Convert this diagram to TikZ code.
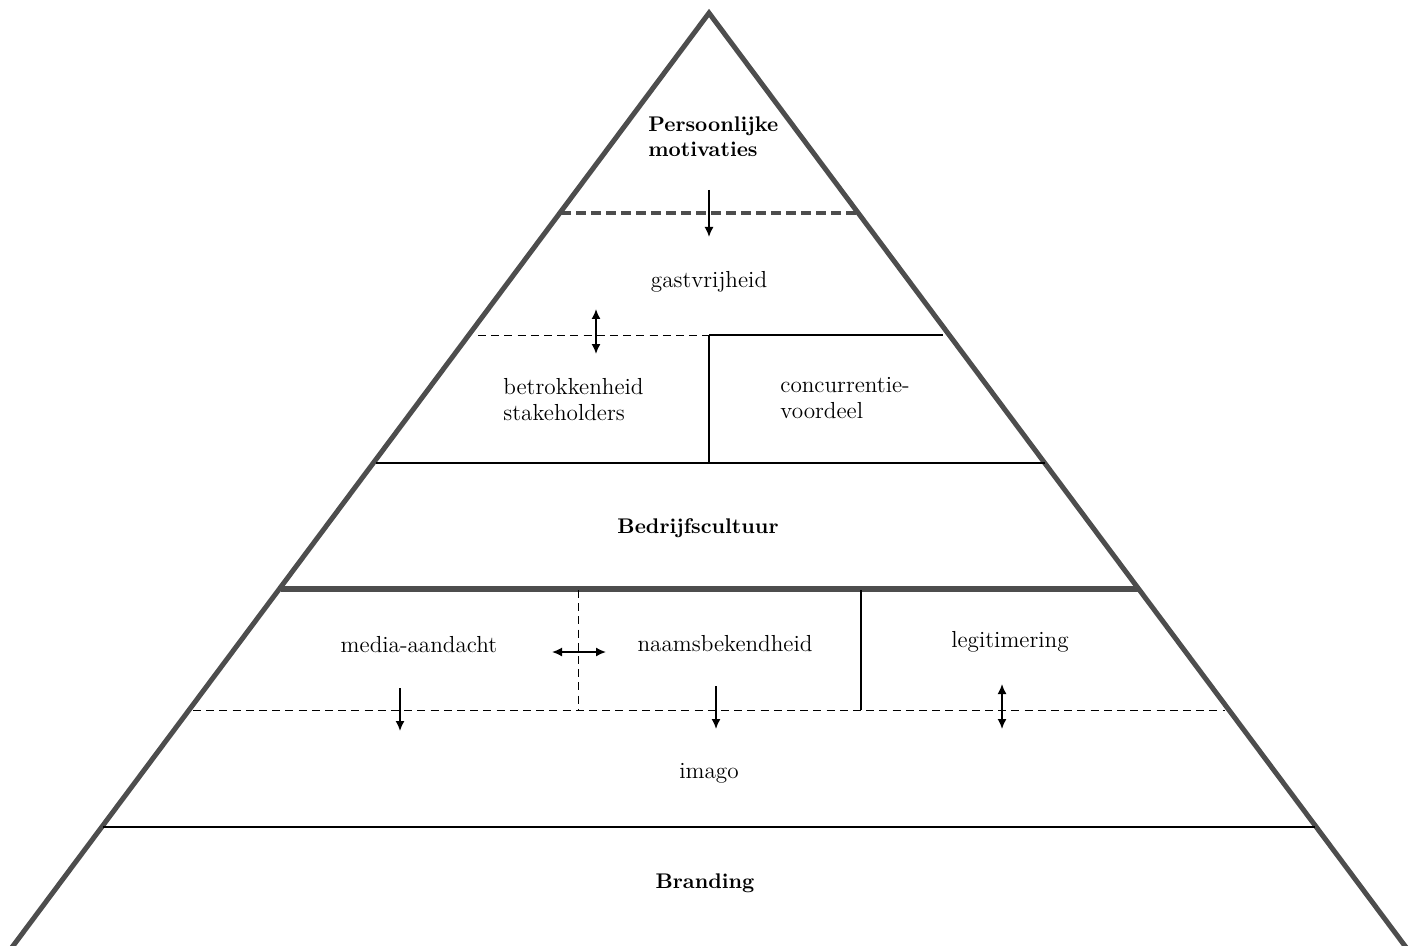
\documentclass[tikz,border=0pt]{standalone}
\usetikzlibrary{arrows.meta}
\definecolor{pgray}{HTML}{4D4D4D}
\begin{document}
\begin{tikzpicture}[x=0.5pt,y=-0.5pt,
  sidestyle/.style={line width=2.5pt,draw=pgray,line join=miter},
  thickdash/.style={line width=2pt,draw=pgray,dash pattern=on 5pt off 2.5pt},
  thickline/.style={line width=2.6pt,draw=pgray},
  thin/.style={line width=0.55pt,draw=black},
  thindash/.style={line width=0.5pt,draw=black,dash pattern=on 4pt off 2.6pt},
  arr/.style={line width=0.8pt,-{Latex[length=5pt,width=4.5pt]}},
  darr/.style={line width=0.8pt,{Latex[length=5pt,width=4.5pt]}-{Latex[length=5pt,width=4.5pt]}},
  lbl/.style={font=\fontsize{11.6}{13}\selectfont,inner sep=0pt},
  blbl/.style={font=\fontsize{10.6}{12.6}\selectfont\bfseries,inner sep=0pt,align=center}]
\useasboundingbox (0,0) rectangle (1422,946);
\clip (0,0) rectangle (1422,946);
% triangle
\coordinate (bl) at (10,950);
\coordinate (apex) at (709,13);
\coordinate (br) at (1408,950);
\draw[sidestyle] (bl) -- (apex) -- (br);
% level lines
\coordinate (d1l) at (561,213); \coordinate (d1r) at (857,213);
\draw[thickdash] (d1l) -- (d1r);
\coordinate (l2a) at (478,335); \coordinate (l2m) at (709,335); \coordinate (l2b) at (943,335);
\draw[thindash] (l2a) -- (l2m);
\draw[thin] (l2m) -- (l2b);
\coordinate (l3a) at (376,463); \coordinate (l3m) at (709,463); \coordinate (l3b) at (1045,463);
\draw[thin] (l3a) -- (l3b);
\draw[thin] (l2m) -- (l3m);
\coordinate (l4a) at (281,589); \coordinate (l4b) at (1139,589);
\draw[thickline] (l4a) -- (l4b);
\coordinate (l5a) at (193,710); \coordinate (l5b) at (1225,710);
\coordinate (v1t) at (578,590); \coordinate (v1b) at (578,710);
\coordinate (v2t) at (861,590); \coordinate (v2b) at (861,710);
\draw[thindash] (l5a) -- (l5b);
\draw[thindash] (v1t) -- (v1b);
\draw[thin] (v2t) -- (v2b);
\coordinate (l6a) at (103,827); \coordinate (l6b) at (1315,827);
\draw[thin] (l6a) -- (l6b);
% texts
\node[blbl,align=left,anchor=west] (pm) at (648,137) {Persoonlijke\\motivaties};
\node[lbl] (gv) at (709,282) {gastvrijheid};
\node[lbl,align=left,anchor=west] (bs) at (503,400) {betrokkenheid\\stakeholders};
\node[lbl,align=left,anchor=west] (cv) at (780,398) {concurrentie-\\voordeel};
\node[blbl] (bc) at (698,528) {Bedrijfscultuur};
\node[lbl] (ma) at (419,645) {media-aandacht};
\node[lbl] (nb) at (725,644) {naamsbekendheid};
\node[lbl] (lg) at (1010,642) {legitimering};
\node[lbl] (im) at (709,773) {imago};
\node[blbl] (br2) at (705,883) {Branding};
% arrows
\coordinate (a1s) at (709,190); \coordinate (a1e) at (709,237);
\draw[arr] (a1s) -- (a1e);
\coordinate (a2s) at (596,309); \coordinate (a2e) at (596,354);
\draw[darr] (a2s) -- (a2e);
\coordinate (a3s) at (552,652); \coordinate (a3e) at (606,652);
\draw[darr] (a3s) -- (a3e);
\coordinate (a4s) at (400,688); \coordinate (a4e) at (400,731);
\draw[arr] (a4s) -- (a4e);
\coordinate (a5s) at (716,686); \coordinate (a5e) at (716,729);
\draw[arr] (a5s) -- (a5e);
\coordinate (a6s) at (1002,684); \coordinate (a6e) at (1002,729);
\draw[darr] (a6s) -- (a6e);
\end{tikzpicture}
\end{document}
